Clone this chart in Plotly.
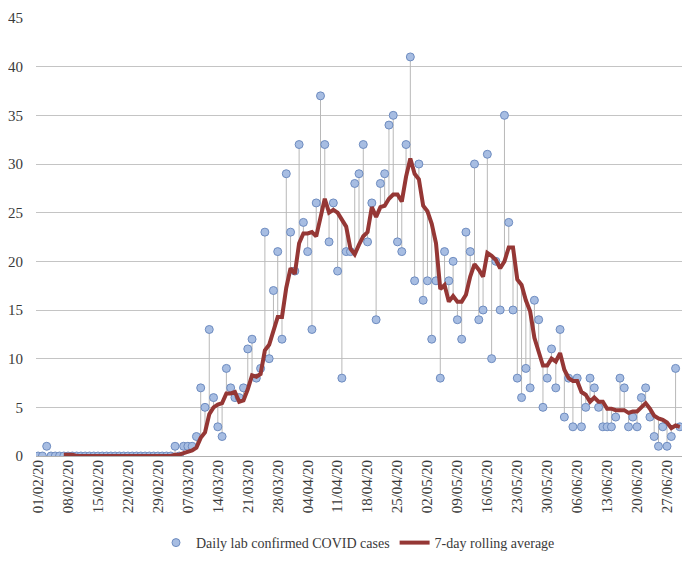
import pandas as pd
import plotly.graph_objects as go

start_date = "2020-02-01"
n_days = 151
dates = pd.date_range(start_date, periods=n_days, freq="D")

daily_cases = [
    0, 0, 1, 0, 0, 0, 0, 0, 0, 0,
    0, 0, 0, 0, 0, 0, 0, 0, 0, 0,
    0, 0, 0, 0, 0, 0, 0, 0, 0, 0,
    0, 0, 1, 0, 1, 1, 1, 2, 7, 5,
    13, 6, 3, 2, 9, 7, 6, 6, 7, 11,
    12, 8, 9, 23, 10, 17, 21, 12, 29, 23,
    19, 32, 24, 21, 13, 26, 37, 32, 22, 26,
    19, 8, 21, 21, 28, 29, 32, 22, 26, 14,
    28, 29, 34, 35, 22, 21, 32, 41, 18, 30,
    16, 18, 12, 18, 8, 21, 18, 20, 14, 12,
    23, 21, 30, 14, 15, 31, 10, 20, 15, 35,
    24, 15, 8, 6, 9, 7, 16, 14, 5, 8,
    11, 7, 13, 4, 8, 3, 8, 3, 5, 8,
    7, 5, 3, 3, 3, 4, 8, 7, 3, 4,
    3, 6, 7, 4, 2, 1, 3, 1, 2, 9,
    3,
]

rolling_avg = [
    None, None, None, None, None, None, 0.14, 0.14, 0.14, 0,
    0, 0, 0, 0, 0, 0, 0, 0, 0, 0,
    0, 0, 0, 0, 0, 0, 0, 0, 0, 0,
    0, 0, 0.14, 0.14, 0.29, 0.43, 0.57, 0.86, 1.86, 2.43,
    4.29, 5.0, 5.29, 5.43, 6.43, 6.43, 6.57, 5.57, 5.71, 6.86,
    8.29, 8.14, 8.43, 10.86, 11.43, 12.86, 14.29, 14.29, 17.29, 19.29,
    18.71, 21.86, 22.86, 22.86, 23.0, 22.57, 24.57, 26.43, 25.0, 25.29,
    25.0, 24.29, 23.57, 21.29, 20.71, 21.71, 22.57, 23.0, 25.57, 24.57,
    25.57, 25.71, 26.43, 26.86, 26.86, 26.14, 28.71, 30.57, 29.0, 28.43,
    25.71, 25.14, 23.86, 21.86, 17.14, 17.57, 15.86, 16.43, 15.86, 15.86,
    16.57, 18.43, 19.71, 19.14, 18.43, 20.86, 20.57, 20.14, 19.29, 20.0,
    21.43, 21.43, 18.14, 17.57, 16.0, 14.86, 12.14, 10.71, 9.29, 9.29,
    10.0, 9.71, 10.57, 8.86, 8.0, 7.71, 7.71, 6.57, 6.29, 5.57,
    6.0, 5.57, 5.57, 4.86, 4.86, 4.71, 4.71, 4.71, 4.43, 4.57,
    4.57, 5.0, 5.43, 4.86, 4.14, 3.86, 3.71, 3.43, 2.86, 3.14,
    3.0,
]

series_names = ["Daily lab confirmed COVID cases", "7-day rolling average"]

# high-low connector lines between daily values and rolling average
hl_x, hl_y = [], []
for d, v, r in zip(dates, daily_cases, rolling_avg):
    if r is None:
        continue
    hl_x += [d, d, None]
    hl_y += [v, r, None]

font_family = "Liberation Serif, DejaVu Serif, serif"
text_color = "#3a3a3a"

fig = go.Figure()
fig.add_trace(go.Scatter(
    x=hl_x, y=hl_y, mode="lines",
    line=dict(color="#b8b8b8", width=1),
    hoverinfo="skip", showlegend=False,
))
fig.add_trace(go.Scatter(
    x=dates, y=daily_cases, mode="markers", name=series_names[0],
    marker=dict(symbol="circle", size=8, color="#a7bde2",
                line=dict(color="#6e8cc0", width=1)),
))
fig.add_trace(go.Scatter(
    x=dates, y=rolling_avg, mode="lines", name=series_names[1],
    line=dict(color="#953735", width=4),
))

# page body has an 8px margin, so figure coordinates are offset by 8px
OFF = 8
W, H = 700 - OFF, 569 - OFF
plot_left, plot_right = 36 - OFF, 682 - OFF
plot_top, plot_bottom = 17.7 - OFF, 456 - OFF
pw = plot_right - plot_left
ph = plot_bottom - plot_top

def px_to_paper_x(px):
    return (px - OFF - plot_left) / pw

fig.update_layout(
    width=W, height=H,
    margin=dict(l=plot_left, r=W - plot_right, t=plot_top, b=H - plot_bottom,
                autoexpand=False),
    paper_bgcolor="white", plot_bgcolor="white",
    font=dict(family=font_family, size=14, color=text_color),
    showlegend=True,
    legend=dict(orientation="h", x=px_to_paper_x(358), xanchor="center",
                yref="container", y=1 - (543 - OFF) / H, yanchor="middle",
                font=dict(family=font_family, size=14, color=text_color),
                itemwidth=30),
)

fig.update_xaxes(
    type="date", automargin=False,
    range=[dates[0] - pd.Timedelta(hours=12), dates[-1] + pd.Timedelta(hours=12)],
    tick0=start_date, dtick=7 * 86400000, tickformat="%d/%m/%y",
    tickangle=-90, showgrid=False, zeroline=False,
    showline=False, ticks="",
    tickfont=dict(family=font_family, size=15, color=text_color),
)
fig.update_yaxes(
    automargin=False,
    range=[0, 45], dtick=5, showgrid=True, gridcolor="#c4c4c4", gridwidth=1,
    zeroline=True, zerolinecolor="#b0b0b0", zerolinewidth=1,
    showline=False, ticks="", ticklabelstandoff=12,
    tickfont=dict(family=font_family, size=15, color=text_color),
)

fig.write_html("out.html")
